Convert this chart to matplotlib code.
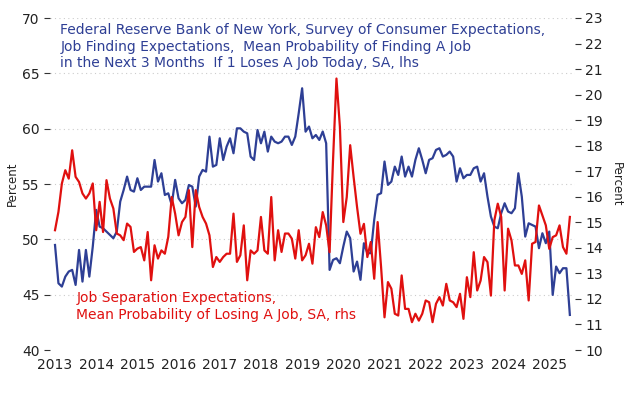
import matplotlib
matplotlib.use("Agg")
import matplotlib.pyplot as plt
import numpy as np

years = [str(y) for y in range(2013, 2026)]

finding = [49.49,46.03,45.73,46.63,47.09,47.24,45.88,49.04,46.18,49.04,46.63,49.34,52.66,51.15,51.00,50.70,50.40,50.10,50.70,53.41,
 54.46,55.67,54.46,54.31,55.52,54.46,54.76,54.76,54.76,57.17,55.22,55.97,54.01,54.16,53.11,55.37,53.71,53.26,53.56,54.91,
 54.76,52.96,55.67,56.27,56.12,59.28,56.57,56.72,59.13,57.17,58.38,59.13,57.78,60.03,60.03,59.73,59.58,57.47,57.17,59.88,
 58.68,59.73,57.93,59.28,58.83,58.68,58.83,59.28,59.28,58.53,59.28,61.39,63.65,59.73,
 60.19,59.13,59.43,58.98,59.74,58.68,47.24,48.14,48.29,47.84,49.35,50.70,50.10,47.09,47.99,46.34,49.65,48.75,48.75,51.76,
 54.02,54.17,57.03,54.92,55.22,56.57,55.82,57.48,55.67,56.57,55.67,57.18,58.23,57.18,55.97,57.18,57.33,58.08,58.23,57.48,
 57.63,57.93,57.48,55.22,56.42,55.52,55.82,55.82,56.42,56.57,55.22,55.97,53.86,52.06,51.15,51.00,52.36,53.26,52.51,52.36,
 52.81,55.97,53.86,50.25,51.45,51.30,51.15,49.20,50.55,49.65,50.70,44.98,47.54,46.94,47.39,47.39,43.17]

losing = [14.69,15.41,16.52,17.04,16.71,17.82,16.78,16.58,16.13,15.93,16.13,16.52,14.69,15.80,14.62,16.65,15.93,15.54,14.56,14.49,
 14.30,14.95,14.82,13.84,13.97,14.03,13.51,14.62,12.73,14.10,13.58,13.90,13.77,14.43,15.99,15.34,14.49,15.01,15.21,16.26,
 14.03,16.26,15.60,15.21,14.95,14.49,13.25,13.64,13.45,13.64,13.77,13.77,15.34,13.45,13.71,14.88,12.73,13.90,13.77,13.90,
 15.21,13.90,13.77,15.99,13.51,14.69,13.84,14.56,14.56,14.36,13.58,14.69,13.51,13.71,
 14.16,13.38,14.81,14.42,15.40,14.88,13.83,17.43,20.63,18.74,15.01,15.99,18.02,16.77,15.60,14.55,14.94,13.64,14.23,12.79,
 15.01,13.25,11.28,12.66,12.40,11.42,11.35,12.92,11.61,11.61,11.09,11.42,11.15,11.42,11.94,11.87,11.09,11.81,12.07,11.74,
 12.59,11.94,11.87,11.68,12.20,11.22,12.85,12.07,13.83,12.33,12.72,13.64,13.44,12.13,15.08,15.73,15.21,12.33,14.75,14.29,
 13.31,13.31,12.98,13.51,11.94,14.16,14.23,15.66,15.27,14.88,13.96,14.42,14.49,14.88,14.03,13.77,15.21]

BLUE = "#2E3F95"
RED = "#E0100F"

fig = plt.figure(figsize=(6.25, 4), dpi=100)
ax = fig.add_axes([0.08, 0.125, 0.84, 0.83])
ax2 = ax.twinx()

x1 = np.arange(len(finding))
x2 = np.arange(len(losing))
ax.plot(x1, finding, color=BLUE, lw=1.6, zorder=3)
ax2.plot(x2, losing, color=RED, lw=1.6, zorder=3)

ax.set_ylim(40, 70)
ax.set_yticks(range(40, 71, 5))
ax2.set_ylim(10, 23)
ax2.set_yticks(range(10, 24))
ax.set_xlim(-1.46, 151.5)
ax.set_xticks(np.arange(len(years)) * 12)
ax.set_xticklabels(years)

for a in (ax, ax2):
    for s in a.spines.values():
        s.set_visible(False)
    a.tick_params(axis='y', labelsize=10, length=4, color='#333333', labelcolor='#222222')
ax.tick_params(axis='x', length=0, labelsize=10, labelcolor='#222222', pad=6)
for v in range(45, 71, 5):
    ax.axhline(v, color='#cccccc', lw=0.8, ls=(0, (1, 3)), zorder=1)

ax.set_ylabel("Percent", fontsize=8.5, color='#222222', labelpad=2)
ax2.set_ylabel("Percent", fontsize=8.5, color='#222222', rotation=270, labelpad=14)

ax.text(0.02, 0.985, "Federal Reserve Bank of New York, Survey of Consumer Expectations,\n"
        "Job Finding Expectations,  Mean Probability of Finding A Job\n"
        "in the Next 3 Months  If 1 Loses A Job Today, SA, lhs",
        transform=ax.transAxes, color=BLUE, fontsize=10, va='top', ha='left', linespacing=1.25)
ax.text(0.05, 0.085, "Job Separation Expectations,\nMean Probability of Losing A Job, SA, rhs",
        transform=ax.transAxes, color=RED, fontsize=10, va='bottom', ha='left', linespacing=1.25)

fig.savefig("out.png", dpi=100)
